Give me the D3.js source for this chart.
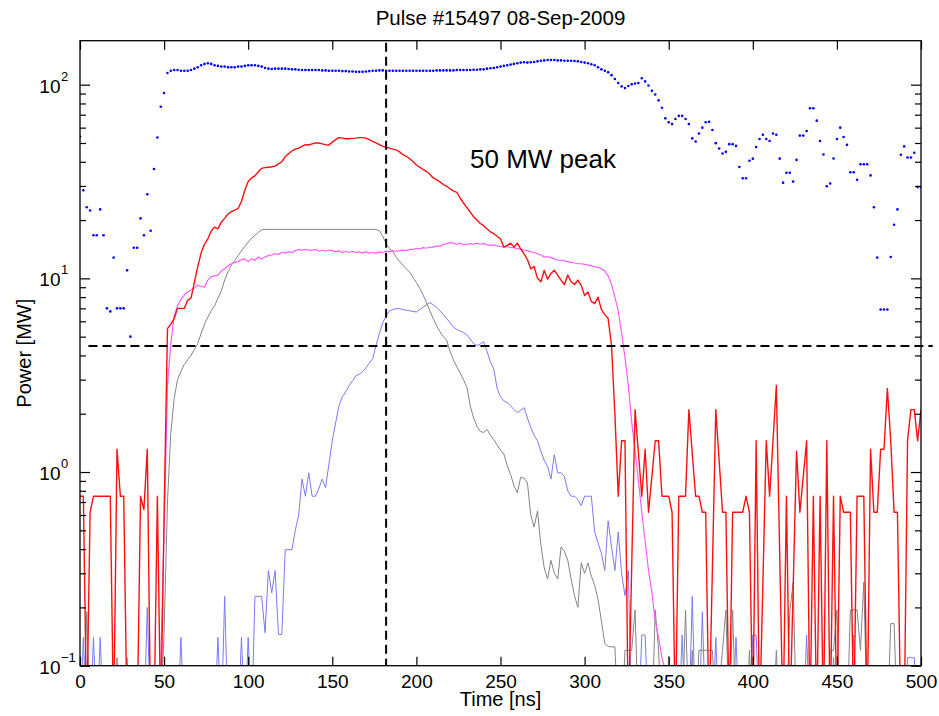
<!DOCTYPE html>
<html>
<head>
<meta charset="utf-8">
<script src="https://cdn.jsdelivr.net/npm/d3@7"></script>
<style>
  body { margin: 0; background: #fff; }
  svg { font-family: "Liberation Sans", Arial, sans-serif; }
</style>
</head>
<body>
<svg id="chart" width="939" height="716"></svg>
<script>
// Pulse #15497 power traces, log scale: [time ns, power MW]
const titleText = "Pulse #15497 08-Sep-2009";
const xLabel = "Time [ns]";
const yLabel = "Power [MW]";
const note = "50 MW peak";

const xTicks = [0, 50, 100, 150, 200, 250, 300, 350, 400, 450, 500];
const yMajor = [0.1, 1, 10, 100];
const yExp = ["\u22121", "0", "1", "2"];
const yMinor = [0.2, 0.3, 0.4, 0.5, 0.6, 0.7, 0.8, 0.9, 2, 3, 4, 5, 6, 7, 8, 9, 20, 30, 40, 50, 60, 70, 80, 90];

const markerT = 182;          // vertical dashed marker
const thresholdMW = 4.47;     // horizontal dashed marker
const thresholdSpan = [5, 507];

// blue dots (sampled every 2 ns)
const dots = [[0,54],[2,28.5],[4,23.3],[6,22.4],[8,16.7],[10,16.7],[12,22.7],[14,16.7],[16,7.0],[18,6.75],
[20,12.8],[22,7.0],[24,7.0],[26,7.0],[28,11.0],[30,5.0],[32,14.4],[34,14.4],[36,20.4],[38,16.7],
[40,27.2],[42,17.6],[44,36.7],[46,53.4],[48,76.9],[50,90.6],[52,115],[54,118],[56,119],[58,119],
[60,118],[62,118],[64,118],[66,119],[68,121],[70,123],[72,126],[74,128],[76,129],[78,128],
[80,126],[82,125],[84,124],[86,124],[88,123],[90,123],[92,123],[94,124],[96,124],[98,125],
[100,126],[102,126],[104,126],[106,125],[108,124],[110,122],[112,121],[114,120.5],[116,121],[118,121],
[120,121],[122,121],[124,120.5],[126,120],[128,120],[130,119.5],[132,119],[134,119],[136,119],[138,119],
[140,119],[142,119],[144,118.5],[146,118.5],[148,118],[150,118],[152,118],[154,118],[156,117.5],[158,117.5],
[160,117],[162,117],[164,116.5],[166,116.5],[168,116.5],[170,117],[172,117.5],[174,118],[176,118],[178,118.5],
[180,118.5],[182,118],[184,118],[186,118],[188,118],[190,118],[192,118],[194,118],[196,118],[198,118],
[200,118],[202,118],[204,118],[206,118],[208,118],[210,118],[212,118.5],[214,118.5],[216,118.5],[218,118.5],
[220,118.5],[222,118.5],[224,119],[226,119],[228,119],[230,119],[232,119],[234,119.5],[236,119.5],[238,120],
[240,120],[242,121],[244,121.5],[246,122],[248,123],[250,124],[252,125],[254,126],[256,127],[258,128],
[260,129],[262,130],[264,130.5],[266,130],[268,130.5],[270,131],[272,132],[274,133],[276,133.5],[278,134],
[280,134],[282,134],[284,133.5],[286,133.5],[288,133],[290,133],[292,133],[294,132.5],[296,132],[298,131],
[300,130],[302,129],[304,127.5],[306,126],[308,123],[310,120],[312,118],[314,116],[316,112],[318,107],
[320,102],[322,98],[324,96],[326,98.5],[328,100.5],[330,101.5],[332,102],[334,108],[336,104],[338,99],
[340,93],[342,89],[344,83],[346,76],[348,67],[350,64],[352,62.6],[354,66.5],[356,69],[358,69],
[360,66.5],[362,62.6],[364,52.8],[366,50.9],[368,56],[370,60],[372,64],[374,64.4],[376,58.3],[378,49.9],
[380,46.8],[382,44.1],[384,45],[386,49.3],[388,49.3],[390,48.3],[392,37.6],[394,32.9],[396,32.9],[398,40.5],
[400,41.5],[402,47.6],[404,52.4],[406,55.1],[408,52.4],[410,51.2],[412,56],[414,55.1],[416,41.5],[418,31.2],
[420,35.1],[422,35.1],[424,31.6],[426,40.9],[428,54.6],[430,54.6],[432,57.7],[434,75.6],[436,75.6],[438,65.2],
[440,51.2],[442,43.6],[444,29.9],[446,30.9],[448,41.6],[450,52.4],[452,60],[454,53.7],[456,48.9],[458,35.3],
[460,35.3],[462,32.3],[464,38.8],[466,38.8],[468,38.8],[470,34],[472,23.3],[474,12.8],[476,6.9],[478,6.9],
[480,6.9],[482,12.9],[484,18.9],[486,22.7],[488,43.5],[490,48],[492,42.1],[494,42.1],[496,44.5],[498,29.6],[500,29.6]];

// red trace (0 = below the axis)
const red = [[0,0.75],[2,0.75],[4,0],[6,0.62],[8,0.75],[10,0.75],[12,0.75],[14,0.75],[16,0.75],[18,0.75],
[20,0],[22,1.31],[24,0.75],[26,0.75],[28,0],[30,0],[32,0],[34,0],[36,0.75],[38,0.64],[40,1.31],[42,0],[44,0],
[46,0.75],[48,0],[50,0.6],[52,5.5],[54,5.8],[56,6.2],[58,7.0],[60,7.0],[62,7.0],[64,7.7],[66,7.9],[68,9.5],
[70,11.5],[72,13.5],[74,15],[76,16],[78,17.5],[80,18.4],[82,18.0],[84,19.5],[86,20.4],[88,21.5],[90,22.1],
[92,22.5],[94,22.9],[96,25],[98,28.5],[100,31.6],[102,33],[104,33.8],[106,35.5],[108,37],[110,37.3],[112,37.5],
[114,37.7],[116,38],[118,39],[120,40],[122,42.5],[124,44],[126,45.5],[128,46.5],[130,47],[132,48],[134,49],
[136,48.8],[138,49.5],[140,50],[142,50],[144,49.5],[146,49],[148,48.8],[150,50.5],[152,52],[154,53.3],[156,53],
[158,52.6],[160,52.6],[162,52.8],[164,53],[166,53.3],[168,53.3],[170,53],[172,52],[174,51],[176,50],[178,49],
[180,48],[182,47.5],[184,47],[186,46.5],[188,46],[190,45],[192,43.5],[194,42.7],[196,41.5],[198,40.1],[200,38.5],
[202,37.5],[204,36.5],[206,35.6],[208,34.5],[210,33],[212,32.3],[214,31.5],[216,30.5],[218,29.9],[220,29],
[222,28.3],[224,27.8],[226,26],[228,24.5],[230,23.2],[232,22],[234,20.8],[236,20],[238,19.2],[240,18.7],[242,18],
[244,17.4],[246,17],[248,16.5],[250,16],[252,14.5],[254,14.8],[256,15.2],[258,14.5],[260,15.2],[262,14.2],
[264,13.4],[266,12.5],[268,11.2],[270,11.5],[272,10],[274,9.6],[276,11],[278,9.9],[280,10.6],[282,11],[284,10.4],
[286,9.8],[288,9.3],[290,10.4],[292,9.6],[294,9.3],[296,9.8],[298,9.2],[300,8.15],[302,8.5],[304,7.6],[306,7.4],
[308,8.0],[310,6.9],[312,6.5],[314,6.2],[316,4.5],[318,2.0],[320,0.75],[322,1.45],[324,1.45],[326,0],[330,2.1],
[334,0.75],[336,1.31],[338,0.62],[342,1.45],[344,1.45],[346,0.75],[350,0.75],[352,0.62],[354,0],[356,0.75],
[360,0.75],[362,2.1],[366,0.75],[368,0.75],[370,0.62],[372,0.62],[374,0],[378,2.1],[382,0.62],[384,0.62],
[386,0],[388,0.62],[390,0.62],[392,0.62],[394,0.62],[396,0.75],[398,0.62],[400,0],[402,1.45],[404,0],[408,1.45],
[410,0.75],[414,2.8],[418,0],[420,0.75],[422,0],[426,1.28],[428,0.62],[432,1.45],[434,0],[436,0.75],[438,0],
[440,0.75],[442,0],[444,1.45],[446,0],[448,0.75],[450,0],[452,0.75],[454,0.62],[456,0.62],[458,0.62],[460,0],
[462,0.75],[464,0.75],[466,0.75],[468,0],[470,1.31],[472,0.62],[474,0.62],[476,1.31],[478,1.31],[480,2.7],
[482,1.45],[484,0.62],[486,0.62],[488,0],[490,0],[492,1.45],[494,2.1],[496,2.1],[498,1.45],[500,2.1]];

// magenta trace
const magenta = [[0,0],[46,0],[48,0.1],[50,0.5],[52,2.8],[54,4.6],[56,6.4],[58,7.2],[60,7.8],[62,8.2],[64,8.5],
[66,8.7],[68,8.9],[70,9.2],[72,9.1],[74,9.0],[76,9.8],[78,10.2],[80,10.3],[82,10.4],[84,10.9],[86,11.2],[88,11.6],
[90,11.9],[92,12.1],[94,12.2],[96,12.5],[98,12.6],[100,12.2],[102,12.6],[104,12.4],[106,12.9],[108,12.6],
[110,12.9],[112,13.1],[114,13.2],[116,13.4],[118,13.3],[120,13.6],[122,13.5],[124,13.7],[126,13.6],[128,13.9],
[130,14.1],[132,14.0],[134,14.1],[136,14.0],[138,14.0],[140,14.1],[142,13.8],[144,14.0],[146,13.8],[148,14.0],
[150,13.9],[152,13.7],[154,13.9],[156,13.6],[158,13.8],[160,13.6],[162,13.8],[164,13.6],[166,13.7],[168,13.5],
[170,13.7],[172,13.5],[174,13.6],[176,13.5],[178,13.7],[180,13.6],[182,13.8],[184,13.7],[186,13.9],[188,13.8],
[190,13.9],[192,14.0],[194,13.9],[196,14.1],[198,14.1],[200,14.3],[202,14.2],[204,14.4],[206,14.3],[208,14.5],
[210,14.5],[212,14.7],[214,14.6],[216,15.0],[218,15.1],[220,15.3],[222,15.2],[224,15.0],[226,15.2],[228,14.9],
[230,15.0],[232,15.1],[234,15.0],[236,15.2],[238,15.0],[240,15.1],[242,14.9],[244,14.8],[246,14.9],[248,14.7],
[250,14.6],[252,14.5],[254,14.6],[256,14.4],[258,14.4],[260,14.2],[262,14.2],[264,14.0],[266,13.9],[268,13.7],
[270,13.6],[272,13.4],[274,13.2],[276,12.9],[278,12.9],[280,12.8],[282,12.6],[284,12.4],[286,12.4],[288,12.3],
[290,12.2],[292,12.1],[294,12.0],[296,11.9],[298,11.9],[300,11.8],[302,11.7],[304,11.6],[306,11.5],[308,11.4],
[310,11.2],[312,10.9],[314,10.3],[316,9.3],[318,8.0],[320,6.8],[322,5.2],[324,3.9],[326,2.8],[328,1.8],[330,1.3],
[332,0.9],[334,0.62],[336,0.44],[338,0.31],[340,0.24],[342,0.17],[344,0.14],[346,0.11],[348,0.095],[350,0],[500,0]];

// grey trace
const grey = [[0,0],[2,0],[4,0.19],[6,0],[20,0],[22,0.11],[24,0],[26,0],[28,0.11],[30,0],[48,0],[50,0.15],[52,0.7],
[54,1.6],[56,2.4],[58,3.0],[60,3.3],[62,3.6],[64,3.8],[66,4.0],[68,4.3],[70,4.6],[72,5.2],[74,5.8],[76,6.3],
[78,6.8],[80,7.2],[82,7.9],[84,8.6],[86,9.8],[88,10.8],[90,11.7],[92,12.4],[94,13.1],[96,13.9],[98,14.6],
[100,15.4],[102,16.1],[104,16.7],[106,17.3],[108,17.8],[110,17.9],[176,17.9],[178,17.6],[180,16.5],[182,15.1],
[184,14.3],[186,13.7],[188,12.9],[190,12.2],[192,11.7],[194,11.2],[196,10.8],[198,10.1],[200,9.5],[202,8.9],
[204,8.2],[206,7.5],[208,6.8],[210,6.2],[212,5.7],[214,5.3],[216,5.0],[218,4.8],[220,4.2],[222,3.8],[224,3.5],
[226,3.25],[228,3.0],[230,2.75],[232,2.2],[234,1.9],[236,1.72],[238,1.62],[240,1.6],[242,1.66],[244,1.55],
[246,1.47],[248,1.38],[250,1.3],[252,1.24],[254,1.08],[256,0.97],[258,0.85],[260,0.78],[262,0.94],[264,0.93],
[266,0.88],[268,0.6],[270,0.52],[272,0.63],[274,0.42],[276,0.32],[278,0.28],[280,0.35],[282,0.3],[284,0.28],
[286,0.41],[288,0.39],[290,0.35],[292,0.28],[294,0.23],[296,0.2],[298,0.34],[300,0.3],[302,0.34],[304,0.29],
[306,0.26],[308,0.22],[310,0.17],[312,0.13],[314,0.126],[316,0.125],[318,0.125],[320,0],[322,0],[324,0.12],
[326,0.12],[328,0.12],[330,0.194],[332,0],[340,0],[342,0.194],[344,0.12],[346,0],[348,0],[350,0.112],[352,0],
[358,0],[360,0.194],[362,0],[364,0.12],[366,0],[368,0.12],[376,0.12],[378,0],[382,0.12],[384,0.194],[386,0],
[388,0.194],[390,0],[396,0],[398,0.12],[400,0],[412,0],[414,0.12],[416,0],[420,0],[422,0.19],[424,0.27],[426,0],
[444,0],[446,0.12],[448,0.12],[450,0.194],[452,0],[456,0],[458,0.194],[462,0.194],[464,0.12],[466,0.27],[468,0],
[480,0],[482,0.165],[484,0.165],[486,0],[500,0]];

// light blue trace
const lightBlue = [[0,0],[2,0.14],[4,0],[6,0],[8,0.14],[10,0],[12,0.14],[14,0],[38,0],[40,0.2],[42,0],[58,0],
[60,0.14],[62,0],[80,0],[82,0.14],[84,0],[86,0.228],[88,0],[94,0],[96,0.14],[98,0],[100,0.14],[102,0],[104,0.228],
[108,0.228],[110,0.148],[112,0.31],[114,0.238],[116,0.31],[118,0.145],[120,0.145],[122,0.397],[126,0.397],
[128,0.5],[130,0.6],[132,0.92],[134,0.75],[136,0.99],[138,0.75],[140,0.75],[142,0.82],[144,0.92],[146,0.83],
[148,1.1],[150,1.45],[152,1.8],[154,2.2],[156,2.45],[158,2.6],[160,2.79],[162,2.95],[164,3.14],[166,3.2],
[168,3.3],[170,3.45],[172,3.65],[174,3.85],[176,4.5],[178,5.2],[180,5.9],[182,6.4],[184,6.8],[186,6.9],
[188,6.97],[190,6.97],[192,6.9],[194,6.85],[196,6.8],[198,6.75],[200,6.7],[202,6.9],[204,7.1],[206,7.3],
[208,7.5],[210,7.3],[212,7.1],[214,6.8],[216,6.5],[218,6.2],[220,5.9],[222,5.6],[224,5.45],[226,5.35],
[228,5.25],[230,5.1],[232,4.86],[234,4.6],[236,4.5],[238,4.58],[240,4.7],[242,4.2],[244,3.7],[246,3.4],
[248,2.7],[250,2.45],[252,2.33],[254,2.28],[256,2.2],[258,2.1],[260,2.03],[262,2.08],[264,2.15],[266,1.9],
[268,1.7],[270,1.55],[272,1.45],[274,1.28],[276,1.15],[278,1.07],[280,0.92],[282,1.23],[284,0.99],[286,0.99],
[288,0.95],[290,0.8],[292,0.75],[294,0.75],[296,0.72],[298,0.67],[300,0.75],[302,0.75],[304,0.75],[306,0.49],
[308,0.43],[310,0.38],[312,0.31],[314,0.56],[316,0.41],[318,0.31],[320,0.49],[322,0.3],[324,0.23],[326,0.31],
[328,0],[332,0],[334,0.144],[336,0.144],[338,0],[356,0],[358,0.144],[360,0],[362,0],[364,0.228],[366,0],[368,0],
[370,0.19],[372,0],[376,0],[378,0.14],[380,0],[388,0],[390,0.14],[392,0],[398,0],[400,0.144],[402,0.144],[404,0],
[430,0],[432,0.144],[434,0],[446,0],[448,0.11],[450,0],[458,0],[460,0.144],[462,0],[490,0],[492,0.11],
[496,0.11],[498,0],[500,0]];

const width = 939, height = 716;
const margin = { top: 40.7, right: 18, bottom: 50.3, left: 80 };
const innerWidth  = width  - margin.left - margin.right;
const innerHeight = height - margin.top  - margin.bottom;
const floorMW = 0.05;

const xScale = d3.scaleLinear().domain([0, 500]).range([0, innerWidth]);
const yScale = d3.scaleLog().domain([0.1, 168.7]).range([innerHeight, 0]);

const svg = d3.select("#chart");
const inner = svg.append("g")
  .attr("transform", `translate(${margin.left}, ${margin.top})`);

inner.append("clipPath").attr("id", "plot-clip")
  .append("rect").attr("width", innerWidth).attr("height", innerHeight);

const plot = inner.append("g").attr("clip-path", "url(#plot-clip)");

const line = d3.line()
  .x(d => xScale(d[0]))
  .y(d => yScale(Math.max(d[1], floorMW)));

const traces = [
  { data: lightBlue, color: "#7a7aff", w: 1 },
  { data: grey, color: "#858585", w: 1 },
  { data: magenta, color: "#ff5cff", w: 1.2 },
  { data: red, color: "#ff1010", w: 1.4 }
];
traces.forEach(s => {
  plot.append("path")
    .attr("d", line(s.data))
    .attr("fill", "none")
    .attr("stroke", s.color)
    .attr("stroke-width", s.w)
    .attr("stroke-linejoin", "round");
});

plot.selectAll("circle.dot")
  .data(dots).join("circle")
  .attr("class", "dot")
  .attr("cx", d => xScale(d[0]))
  .attr("cy", d => yScale(d[1]))
  .attr("r", 1.3)
  .attr("fill", "#0000ff");

// dashed markers
inner.append("line")
  .attr("x1", xScale(markerT)).attr("x2", xScale(markerT))
  .attr("y1", 2).attr("y2", innerHeight)
  .attr("stroke", "#000").attr("stroke-width", 2).attr("stroke-dasharray", "9,5");
inner.append("line")
  .attr("x1", xScale(thresholdSpan[0])).attr("x2", xScale(thresholdSpan[1]))
  .attr("y1", yScale(thresholdMW)).attr("y2", yScale(thresholdMW))
  .attr("stroke", "#000").attr("stroke-width", 2).attr("stroke-dasharray", "9,5");

// axes with inward ticks on all four sides
function styleAxis(g) {
  g.select(".domain").remove();
  g.selectAll(".tick line").attr("stroke", "#000").attr("stroke-width", 1.2);
  g.selectAll(".tick text").attr("fill", "#000").attr("font-size", 19)
    .attr("font-family", "Liberation Sans, Arial, sans-serif");
}
function ticksOnly(g) {
  styleAxis(g);
  g.selectAll(".tick text").remove();
}

inner.append("g")
  .attr("transform", `translate(0, ${innerHeight})`)
  .call(d3.axisBottom(xScale).tickValues(xTicks).tickSize(-9).tickPadding(9).tickFormat(d3.format("d")))
  .call(styleAxis);
inner.append("g")
  .call(d3.axisTop(xScale).tickValues(xTicks).tickSize(-9))
  .call(ticksOnly);
inner.append("g")
  .call(d3.axisLeft(yScale).tickValues(yMajor).tickSize(-10))
  .call(ticksOnly);
inner.append("g")
  .call(d3.axisLeft(yScale).tickValues(yMinor).tickSize(-6))
  .call(ticksOnly);
inner.append("g")
  .attr("transform", `translate(${innerWidth}, 0)`)
  .call(d3.axisRight(yScale).tickValues(yMajor).tickSize(-10))
  .call(ticksOnly);
inner.append("g")
  .attr("transform", `translate(${innerWidth}, 0)`)
  .call(d3.axisRight(yScale).tickValues(yMinor).tickSize(-6))
  .call(ticksOnly);

inner.append("rect")
  .attr("width", innerWidth).attr("height", innerHeight)
  .attr("fill", "none").attr("stroke", "#000").attr("stroke-width", 1.3);

// y tick labels as 10^k
yMajor.forEach((v, i) => {
  const yy = yScale(v);
  inner.append("text")
    .attr("x", -19.5).attr("y", yy + 8)
    .attr("text-anchor", "end").attr("font-size", 19)
    .text("10");
  inner.append("text")
    .attr("x", -19).attr("y", yy - 4)
    .attr("text-anchor", "start").attr("font-size", 13)
    .text(yExp[i]);
});

// titles
svg.append("text")
  .attr("x", margin.left + innerWidth / 2).attr("y", 24.5)
  .attr("text-anchor", "middle").attr("font-size", 20.5)
  .text(titleText);
svg.append("text")
  .attr("x", margin.left + innerWidth / 2).attr("y", 706)
  .attr("text-anchor", "middle").attr("font-size", 20)
  .text(xLabel);
svg.append("text")
  .attr("transform", `translate(31, ${margin.top + innerHeight / 2}) rotate(-90)`)
  .attr("text-anchor", "middle").attr("font-size", 20)
  .text(yLabel);
svg.append("text")
  .attr("x", 470).attr("y", 168)
  .attr("font-size", 26)
  .text(note);
</script>
</body>
</html>
